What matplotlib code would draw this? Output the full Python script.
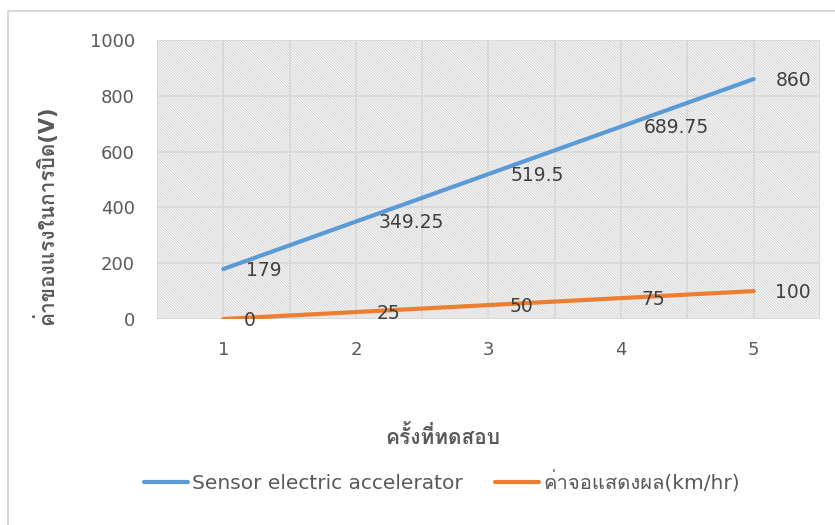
import matplotlib
matplotlib.use('Agg')
from matplotlib import pyplot as plt
from matplotlib import font_manager as fm
from matplotlib.ft2font import FT2Font
from matplotlib.patches import Rectangle
import numpy as np

# данные
tests = [1, 2, 3, 4, 5]
sensor = [179, 349.25, 519.5, 689.75, 860]
display = [0, 25, 50, 75, 100]
sensor_name = 'Sensor electric accelerator'
display_name = 'ค่าจอแสดงผล(km/hr)'
x_title = 'ครั้งที่ทดสอบ'
y_title = 'ค่าของแรงในการบิด(V)'
y_ticks = [0, 200, 400, 600, 800, 1000]

# ищем шрифт с тайскими символами
thai = []
for f in fm.fontManager.ttflist:
    try:
        if 0x0E04 in FT2Font(f.fname).get_charmap():
            if f.name not in thai:
                thai.append(f.name)
    except Exception:
        pass
plt.rcParams['font.family'] = ['DejaVu Sans'] + thai
plt.rcParams['hatch.linewidth'] = 0.8

c_blue = '#5B9BD5'
c_orange = '#ED7D31'
c_text = '#595959'
c_grid = '#d9d9d9'

fig = plt.figure(figsize=(8.35, 5.25), dpi=100)
W, H = 835, 525
fig.patches.append(Rectangle((8 / W, -0.1), 1.2, 1 - 11 / H + 0.1, transform=fig.transFigure,
                             facecolor='none', edgecolor=c_grid, lw=1.5))

ax = fig.add_axes([157 / W, 1 - 319 / H, (820 - 157) / W, (319 - 40) / H])
ax.add_patch(Rectangle((0, 0), 1, 1, transform=ax.transAxes, facecolor='white',
                       edgecolor='#d6d6d6', hatch='\\' * 12, lw=0, zorder=0))
ax.set_xlim(0.5, 5.5)
ax.set_ylim(0, 1000)
for xv in np.arange(0.5, 5.6, 0.5):
    ax.axvline(xv, color=c_grid, lw=1.3, zorder=1)
for yv in y_ticks:
    ax.axhline(yv, color=c_grid, lw=1.3, zorder=1)
for s in ax.spines.values():
    s.set_visible(False)

ax.plot(tests, sensor, color=c_blue, lw=3, solid_capstyle='round', zorder=3, label=sensor_name)
ax.plot(tests, display, color=c_orange, lw=3, solid_capstyle='round', zorder=3, label=display_name)

for x, y in zip(tests, sensor):
    ax.annotate('%g' % y, (x, y), xytext=(16, -1), textcoords='offset points', ha='left', va='center',
                fontsize=13.5, color='#404040', zorder=4)
for x, y in zip(tests, display):
    ax.annotate('%g' % y, (x, y), xytext=(15, -1), textcoords='offset points', ha='left', va='center',
                fontsize=13.5, color='#404040', zorder=4)

ax.set_xticks(tests)
ax.set_yticks(y_ticks)
ax.tick_params(length=0, labelsize=13, labelcolor=c_text)
ax.tick_params(axis='x', pad=16)
ax.tick_params(axis='y', pad=16)

fig.text(45 / W, 1 - 215 / H, y_title, rotation=90, ha='center', va='center',
         fontsize=15, fontweight='bold', color=c_text)
fig.text(443 / W, 1 - 437 / H, x_title, ha='center', va='center',
         fontsize=15, fontweight='bold', color=c_text)

fig.legend(loc='center', bbox_to_anchor=(442 / W, 1 - 482 / H), ncol=2, frameon=False,
           fontsize=14.5, labelcolor=c_text, handlelength=2.2, handletextpad=0.2,
           columnspacing=1.6)

fig.savefig('out.png', dpi=100)
